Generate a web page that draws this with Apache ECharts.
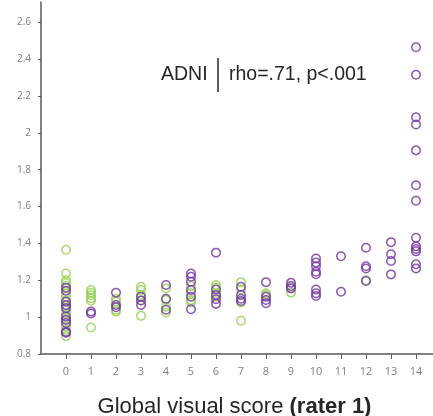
<!DOCTYPE html>
<html><head><meta charset="utf-8">
<script src="https://cdn.jsdelivr.net/npm/echarts@6/dist/echarts.min.js"></script>
<style>html,body{margin:0;padding:0;background:#fff}#c{width:433px;height:416px}</style>
</head><body><div id="c"></div>
<script>
// Global visual score categories
const categories = [0,1,2,3,4,5,6,7,8,9,10,11,12,13,14];
const yTicks = [0.8,1,1.2,1.4,1.6,1.8,2,2.2,2.4,2.6];
// green group: [score, value]
const greenScore = [0,0,0,0,0,0,0,0,0,0,0,0,0,0,0, 1,1,1,1,1,1, 2,2,2,2, 3,3,3,3,3, 4,4,4,4, 5,5,5,5, 6,6,6,6, 7,7,7,7, 8,8, 9,9, 12];
const greenValue = [1.366,1.237,1.20,1.185,1.17,1.13,1.11,1.09,1.06,1.04,1.02,0.99,0.95,0.93,0.897, 1.147,1.133,1.119,1.102,1.089,0.944, 1.10,1.085,1.04,1.03, 1.165,1.147,1.12,1.09,1.007, 1.156,1.093,1.057,1.025, 1.169,1.13,1.093,1.08, 1.174,1.16,1.13,1.11, 1.19,1.15,1.08,0.98, 1.13,1.12, 1.16,1.133, 1.20];
// purple group
const purpleScore = [0,0,0,0,0,0,0,0,0,0, 1,1, 2,2,2, 3,3,3, 4,4,4, 5,5,5,5,5,5, 6,6,6,6,6, 7,7,7,7, 8,8,8,8, 9,9,9, 10,10,10,10,10,10,10,10, 11,11, 12,12,12,12, 13,13,13,13, 14,14,14,14,14,14,14,14,14,14,14,14,14];
const purpleValue = [1.16,1.143,1.084,1.066,1.003,0.985,0.968,0.92,0.915,1.05, 1.03,1.02, 1.133,1.066,1.054, 1.11,1.09,1.066, 1.174,1.10,1.04, 1.237,1.219,1.192,1.147,1.111,1.043, 1.35,1.15,1.12,1.097,1.072, 1.165,1.12,1.10,1.088, 1.19,1.11,1.093,1.075, 1.186,1.169,1.156, 1.318,1.296,1.276,1.246,1.233,1.15,1.13,1.115, 1.33,1.138, 1.377,1.276,1.264,1.196, 1.407,1.341,1.305,1.232, 2.464,2.315,2.085,2.045,1.905,1.716,1.632,1.431,1.384,1.37,1.357,1.287,1.264];

const green = greenScore.map((s,i)=>[s,greenValue[i]]);
const purple = purpleScore.map((s,i)=>[s,purpleValue[i]]);

const chart = echarts.init(document.getElementById('c'));
chart.setOption({
  animation:false,
  backgroundColor:'#fff',
  grid:{left:41,right:0,top:2,bottom:62,containLabel:false,outerBoundsMode:'none'},
  xAxis:{
    type:'value',min:-1,max:14.68,interval:1,
    axisLine:{onZero:false,lineStyle:{color:'#595959',width:1.5}},
    axisTick:{show:true,length:5,lineStyle:{color:'#595959'},
      customValues:categories},
    splitLine:{show:false},
    axisLabel:{margin:12,color:'#7f7f7f',fontSize:11,fontFamily:'Open Sans',
      customValues:categories,
      formatter:v=>categories.indexOf(v)>=0?String(v):''},
    name:'{a|Global visual score }{b|(rater 1)}',
    nameLocation:'middle',nameGap:42,
    nameTextStyle:{padding:[0,5,0,0],rich:{
      a:{fontSize:22,fontFamily:'Liberation Sans',color:'#262626'},
      b:{fontSize:22,fontFamily:'Liberation Sans',fontWeight:'bold',color:'#262626'}
    }}
  },
  yAxis:{
    type:'value',min:0.8,max:2.71,interval:0.2,
    axisLine:{show:true,onZero:false,lineStyle:{color:'#595959',width:1.5}},
    axisTick:{show:true,length:3,lineStyle:{color:'#595959'},customValues:yTicks},
    splitLine:{show:false},
    axisLabel:{margin:10,color:'#7f7f7f',fontSize:10,fontFamily:'Open Sans',
      customValues:yTicks,
      formatter:v=>{const t=yTicks.find(k=>Math.abs(k-v)<1e-6);return t===undefined?'':String(t);}}
  },
  graphic:[
    {type:'text',left:161,top:65,style:{text:'ADNI',font:'19.5px "Liberation Sans"',fill:'#262626'}},
    {type:'line',shape:{x1:218,y1:58,x2:218,y2:92},style:{stroke:'#262626',lineWidth:1.5}},
    {type:'text',left:229,top:65,style:{text:'rho=.71, p<.001',font:'19.5px "Liberation Sans"',fill:'#262626'}}
  ],
  series:[
    {type:'scatter',data:green,symbol:'circle',symbolSize:8.5,
      itemStyle:{color:'rgba(0,0,0,0)',borderColor:'#92D050',borderWidth:1.5}},
    {type:'scatter',data:purple,symbol:'circle',symbolSize:8.5,
      itemStyle:{color:'rgba(0,0,0,0)',borderColor:'#7030A0',borderWidth:1.5}}
  ]
});
</script></body></html>
